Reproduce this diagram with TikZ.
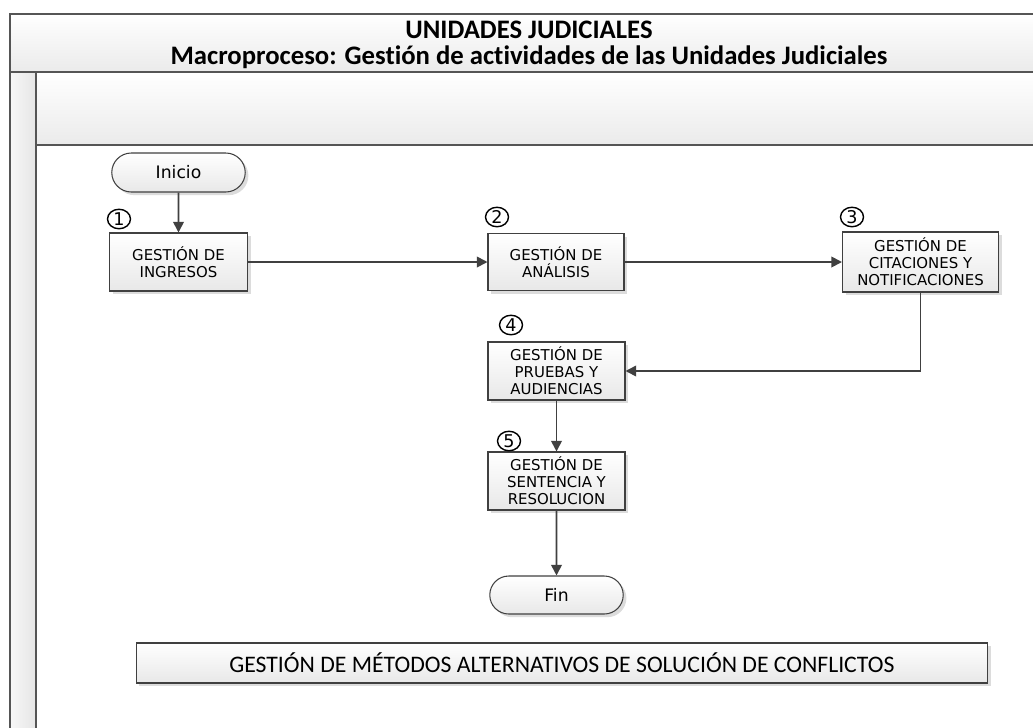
\documentclass[tikz,border=0pt]{standalone}
\usepackage{fontspec}
\setmainfont{Carlito}[Ligatures=NoCommon]
\newfontfamily\boxfont{DejaVu Sans}
\usetikzlibrary{shapes.misc,shapes.geometric,shadows,arrows.meta}
\definecolor{edgegray}{HTML}{404040}
\definecolor{framegray}{HTML}{555555}
\begin{document}
\begin{tikzpicture}[x=0.02cm,y=-0.02cm,
  boxshadow/.style={drop shadow={shadow xshift=1.8pt,shadow yshift=-1.8pt,fill=black!45,opacity=0.3}},
  proc/.style={rectangle, draw=edgegray, line width=0.6pt, top color=white, bottom color=black!9,
    boxshadow, align=center, inner sep=1pt,
    font=\boxfont\fontsize{8.5}{9.7}\selectfont},
  term/.style={rounded rectangle, draw=edgegray, line width=0.6pt, top color=white, bottom color=black!9,
    boxshadow, inner sep=1pt, minimum width=2.74cm,
    font=\boxfont\fontsize{9.8}{11}\selectfont},
  stepnum/.style={ellipse, draw=black, line width=0.8pt, minimum width=0.46cm, minimum height=0.39cm,
    inner sep=0pt, fill=white, font=\boxfont\fontsize{10}{10}\selectfont},
  flow/.style={draw=edgegray, line width=1pt, -{Triangle[length=6pt,width=6pt]}},
  band/.style={top color=white, bottom color=black!8},
  frameline/.style={draw=framegray, line width=1.1pt}
]
\useasboundingbox (0,0) rectangle (1033,727);
\clip (0,0) rectangle (1033,727);

% pool title band, lane header and lane label strip
\shade[band] (10,14) rectangle (1050,72);
\shade[band] (36,72) rectangle (1050,145);
\shade[left color=black!3, right color=black!10] (10,72) rectangle (36,740);
\draw[frameline] (10,740) -- (10,14) -- (1050,14);
\draw[frameline] (10,72) -- (1050,72);
\draw[frameline] (36,72) -- (36,740);
\draw[frameline] (36,145) -- (1050,145);

\node[font=\bfseries\fontsize{15.2}{14.5}\selectfont, align=center] (title) at (529,45)
  {UNIDADES JUDICIALES\\Macroproceso: Gestión de actividades de las Unidades Judiciales};

% process steps
\node[term, minimum height=0.78cm] (inicio) at (178.5,172.5) {Inicio};
\node[proc, minimum width=2.76cm, minimum height=1.16cm] (g1) at (178.5,262) {GESTIÓN DE\\INGRESOS};
\node[proc, minimum width=2.72cm, minimum height=1.14cm] (g2) at (556,262) {GESTIÓN DE\\ANÁLISIS};
\node[proc, minimum width=3.12cm, minimum height=1.2cm] (g3) at (920.5,262) {GESTIÓN DE\\CITACIONES Y\\NOTIFICACIONES};
\node[proc, minimum width=2.74cm, minimum height=1.16cm] (g4) at (556.5,371) {GESTIÓN DE\\PRUEBAS Y\\AUDIENCIAS};
\node[proc, minimum width=2.74cm, minimum height=1.16cm] (g5) at (556.5,481) {GESTIÓN DE\\SENTENCIA Y\\RESOLUCION};
\node[term, minimum height=0.76cm] (fin) at (556.5,595) {Fin};
\node[proc, minimum width=17.04cm, minimum height=0.8cm, font=\fontsize{13.5}{15}\selectfont] (alt) at (562,663)
  {GESTIÓN DE MÉTODOS ALTERNATIVOS DE SOLUCIÓN DE CONFLICTOS};

% step numbers
\node[stepnum] (n1) at (119,219) {1};
\node[stepnum] (n2) at (497,217) {2};
\node[stepnum] (n3) at (852,217) {3};
\node[stepnum] (n4) at (511,325) {4};
\node[stepnum] (n5) at (509,441) {5};

% flow
\draw[flow] (inicio) -- (g1);
\draw[flow] (g1) -- (g2);
\draw[flow] (g2) -- (g3);
\draw[flow] (g3.south) |- (g4.east);
\draw[flow] (g4) -- (g5);
\draw[flow] (g5) -- (fin);
\end{tikzpicture}
\end{document}
